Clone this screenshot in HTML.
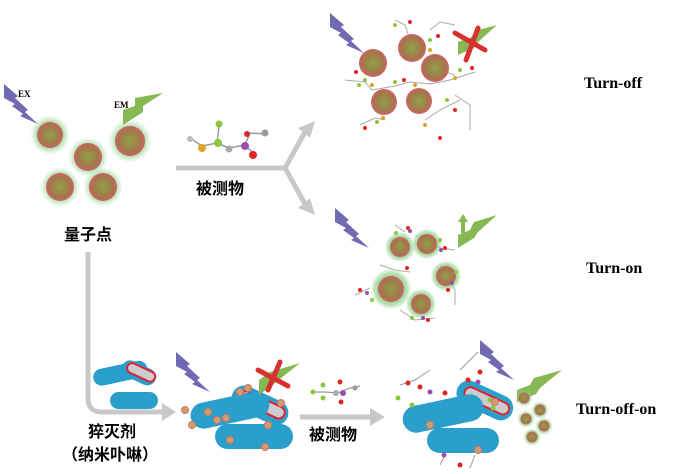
<!DOCTYPE html>
<html><head><meta charset="utf-8"><style>
html,body{margin:0;padding:0;background:#fff;width:700px;height:474px;overflow:hidden}
text{font-family:"Liberation Sans","Noto Sans CJK SC",sans-serif}
.t{font-family:"Liberation Serif",serif;font-weight:bold;font-size:16px}
.s{font-family:"Liberation Serif",serif;font-weight:bold;font-size:9px}
.c{font-family:"Liberation Sans","Noto Sans CJK SC",sans-serif;font-size:16px;font-weight:bold}
</style></head><body>
<svg width="700" height="474" viewBox="0 0 700 474" xmlns="http://www.w3.org/2000/svg">
<defs>
<radialGradient id="qd"><stop offset="0" stop-color="#8fa04a"/><stop offset="0.75" stop-color="#a5764a"/><stop offset="1" stop-color="#d2606a"/></radialGradient>
<radialGradient id="gl"><stop offset="0.55" stop-color="#6cc46a" stop-opacity="0.8"/><stop offset="1" stop-color="#9fdc9a" stop-opacity="0"/></radialGradient>
<radialGradient id="gl2"><stop offset="0.6" stop-color="#7dca78" stop-opacity="0.85"/><stop offset="0.85" stop-color="#a9dca5" stop-opacity="0.7"/><stop offset="1" stop-color="#c8ebc4" stop-opacity="0.2"/></radialGradient>
<g id="bolt"><polygon points="0,0 14,12 11,14 24,26 21,28 34,40 16,32 19,30 8,22 11,20 0,14" fill="#6f6bb3"/></g>
</defs>

<!-- left QDs -->
<g>
<circle cx="50" cy="135" r="20" fill="url(#gl)"/><circle cx="50" cy="135" r="13" fill="url(#qd)"/>
<circle cx="88" cy="157" r="20" fill="url(#gl)"/><circle cx="88" cy="157" r="14" fill="url(#qd)"/>
<circle cx="130" cy="141" r="22" fill="url(#gl)"/><circle cx="130" cy="141" r="15" fill="url(#qd)"/>
<circle cx="60" cy="187" r="20" fill="url(#gl)"/><circle cx="60" cy="187" r="14" fill="url(#qd)"/>
<circle cx="103" cy="187" r="20" fill="url(#gl)"/><circle cx="103" cy="187" r="14" fill="url(#qd)"/>
</g>
<use href="#bolt" x="4" y="84"/>
<text x="18" y="97" class="s">EX</text>
<text x="114" y="108" class="s">EM</text>
<polygon points="123,125 123,110 135,106 135,98 163,93 143,106 143,112" fill="#86b953"/>
<text x="88" y="240" text-anchor="middle" class="c" font-size="19">量子点</text>

<!-- molecule on top arrow -->
<g stroke="#999" stroke-width="1.5" fill="none">
<line x1="190" y1="138" x2="202" y2="146"/><line x1="202" y1="146" x2="217" y2="143"/><line x1="217" y1="143" x2="219" y2="126"/><line x1="217" y1="143" x2="229" y2="148"/><line x1="229" y1="148" x2="245" y2="145"/><line x1="245" y1="145" x2="255" y2="155"/><line x1="245" y1="145" x2="250" y2="133"/><line x1="250" y1="133" x2="265" y2="134"/>
</g>
<circle cx="202" cy="148" r="4" fill="#d9a427"/><circle cx="218" cy="143" r="4" fill="#8cc63f"/><circle cx="219" cy="124" r="3.5" fill="#8cc63f"/>
<circle cx="229" cy="149" r="3.5" fill="#aaa"/><circle cx="245" cy="146" r="4" fill="#9a4fb0"/><circle cx="253" cy="155" r="4" fill="#e02424"/><circle cx="247" cy="134" r="3" fill="#e02424"/><circle cx="265" cy="133" r="3.5" fill="#999"/><circle cx="190" cy="139" r="3" fill="#bbb"/>

<!-- Y arrow -->
<g fill="none" stroke="#c8c8c8" stroke-width="5">
<line x1="176" y1="168" x2="285" y2="168"/>
<polyline points="285,168 305,132"/>
<polyline points="285,168 305,204"/>
</g>
<polygon points="315,121 298,128 310,138" fill="#c8c8c8"/>
<polygon points="315,215 298,208 310,198" fill="#c8c8c8"/>
<text x="220" y="194" text-anchor="middle" class="c">被测物</text>

<!-- top cluster -->
<g stroke="#aaa" stroke-width="1" fill="none">
<path d="M345 80 L365 82 L372 90 L395 86 L410 82 L430 84 M430 84 L450 80 L475 72 M360 125 L375 118 L385 120 M425 120 L440 110 L460 100 M395 20 L405 25 L410 40 M430 30 L440 22 L455 25 M455 95 L470 105 L470 130 M440 70 L455 75"/>
</g>
<g>
<circle cx="373" cy="63" r="14" fill="url(#qd)"/>
<circle cx="412" cy="48" r="14" fill="url(#qd)"/>
<circle cx="435" cy="68" r="14" fill="url(#qd)"/>
<circle cx="384" cy="102" r="13" fill="url(#qd)"/>
<circle cx="419" cy="101" r="13" fill="url(#qd)"/>
</g>
<g fill="#8cc63f"><circle cx="365" cy="80" r="2"/><circle cx="395" cy="82" r="2"/><circle cx="395" cy="25" r="2"/><circle cx="430" cy="40" r="2"/><circle cx="460" cy="70" r="2"/><circle cx="447" cy="100" r="2"/><circle cx="377" cy="122" r="2"/><circle cx="359" cy="85" r="2"/></g>
<g fill="#e02424"><circle cx="356" cy="72" r="2"/><circle cx="404" cy="80" r="2"/><circle cx="410" cy="22" r="2"/><circle cx="438" cy="36" r="2"/><circle cx="472" cy="68" r="2"/><circle cx="455" cy="110" r="2"/><circle cx="365" cy="128" r="2"/><circle cx="440" cy="138" r="2"/></g>
<g fill="#d9a427"><circle cx="372" cy="85" r="2"/><circle cx="415" cy="85" r="2"/><circle cx="430" cy="50" r="2"/><circle cx="455" cy="78" r="2"/><circle cx="425" cy="125" r="2"/><circle cx="383" cy="118" r="2"/></g>
<use href="#bolt" x="330" y="13"/>
<polygon points="458,55 458,42 472,37 478,30 497,25 478,42 474,48" fill="#86b953"/>
<g stroke="#d8322e" stroke-width="5" stroke-linecap="round"><line x1="455" y1="33" x2="485" y2="50"/><line x1="478" y1="28" x2="466" y2="60"/></g>

<!-- middle cluster -->
<g stroke="#aaa" stroke-width="1" fill="none"><path d="M395 225 L405 232 M415 235 L440 248 L455 250 M440 265 L455 290 L455 305 M380 265 L395 270 L410 272 M355 295 L370 288 M400 310 L415 320 L435 318"/></g>
<g>
<circle cx="400" cy="247" r="15" fill="url(#gl2)"/><circle cx="400" cy="247" r="10" fill="url(#qd)"/>
<circle cx="427" cy="244" r="15" fill="url(#gl2)"/><circle cx="427" cy="244" r="10" fill="url(#qd)"/>
<circle cx="446" cy="276" r="15" fill="url(#gl2)"/><circle cx="446" cy="276" r="10" fill="url(#qd)"/>
<circle cx="391" cy="289" r="20" fill="url(#gl2)"/><circle cx="391" cy="289" r="13" fill="url(#qd)"/>
<circle cx="421" cy="304" r="15" fill="url(#gl2)"/><circle cx="421" cy="304" r="10" fill="url(#qd)"/>
</g>
<g fill="#e02424"><circle cx="408" cy="228" r="2"/><circle cx="445" cy="248" r="2"/><circle cx="448" cy="290" r="2"/><circle cx="360" cy="290" r="2"/><circle cx="428" cy="320" r="2"/><circle cx="407" cy="268" r="2"/></g>
<g fill="#8cc63f"><circle cx="396" cy="233" r="2"/><circle cx="440" cy="240" r="2"/><circle cx="456" cy="272" r="2"/><circle cx="372" cy="300" r="2"/><circle cx="412" cy="318" r="2"/></g>
<g fill="#9a4fb0"><circle cx="410" cy="231" r="2"/><circle cx="441" cy="250" r="2"/><circle cx="452" cy="283" r="2"/><circle cx="367" cy="293" r="2"/><circle cx="423" cy="318" r="2"/></g>
<use href="#bolt" x="335" y="208"/>
<polygon points="458,248 458,235 470,230 474,222 497,215 478,232 474,238" fill="#86b953"/>
<polygon points="461,233 461,222 458,222 463,214 468,222 465,222 465,233" fill="#86b953"/>

<!-- L arrow -->
<path d="M88 252 L88 398 Q88 412 102 412 L165 412" fill="none" stroke="#c8c8c8" stroke-width="5"/>
<polygon points="176,412 162,403 162,421" fill="#c8c8c8"/>
<text x="112" y="437" text-anchor="middle" class="c">猝灭剂</text>
<text x="110" y="460" text-anchor="middle" class="c" font-weight="normal">（纳米卟啉）</text>

<!-- quencher rods small -->
<g transform="rotate(-12 110 380)"><rect x="94" y="367" width="55" height="17" rx="8.5" fill="#2b9fcc"/></g>
<rect x="121" y="364" width="36" height="17" rx="8.5" fill="#2b9fcc" transform="rotate(25 138 372)"/>
<rect x="126" y="366" width="30" height="10" rx="5" fill="#ccc" stroke="#d23" stroke-width="2" transform="rotate(25 138 372)"/>
<rect x="110" y="392" width="48" height="17" rx="8.5" fill="#2b9fcc"/>

<!-- quenched complex -->
<use href="#bolt" x="176" y="352"/>
<rect x="230" y="392" width="60" height="25" rx="12.5" fill="#2b9fcc" transform="rotate(25 258 405)"/>
<rect x="238" y="397" width="48" height="12" rx="6" fill="#ccc" stroke="#d23" stroke-width="2" transform="rotate(25 258 405)"/>
<rect x="190" y="397" width="80" height="26" rx="13" fill="#2b9fcc" transform="rotate(-12 230 410)"/>
<rect x="215" y="424" width="78" height="25" rx="12.5" fill="#2b9fcc"/>
<g fill="#c9a070" stroke="#e07060" stroke-width="1"><circle cx="185" cy="410" r="3.5"/><circle cx="208" cy="412" r="3.5"/><circle cx="217" cy="420" r="3.5"/><circle cx="226" cy="418" r="3.5"/><circle cx="240" cy="392" r="3.5"/><circle cx="248" cy="388" r="3.5"/><circle cx="281" cy="403" r="3.5"/><circle cx="268" cy="425" r="3.5"/><circle cx="230" cy="440" r="3.5"/><circle cx="265" cy="447" r="3.5"/><circle cx="192" cy="425" r="3.5"/></g>
<polygon points="259,395 259,380 270,372 300,363 275,383" fill="#86b953"/>
<g stroke="#d8322e" stroke-width="5" stroke-linecap="round"><line x1="258" y1="370" x2="288" y2="386"/><line x1="280" y1="362" x2="268" y2="390"/></g>

<!-- arrow 2 -->
<line x1="300" y1="417" x2="370" y2="417" stroke="#c8c8c8" stroke-width="5"/>
<polygon points="385,417 370,408 370,426" fill="#c8c8c8"/>
<text x="333" y="440" text-anchor="middle" class="c">被测物</text>
<g stroke="#999" stroke-width="1.2" fill="none"><path d="M313 392 L325 392 L338 393 L350 388 L360 386"/></g>
<g><circle cx="313" cy="392" r="2.5" fill="#8cc63f"/><circle cx="323" cy="385" r="2.5" fill="#8cc63f"/><circle cx="323" cy="398" r="2.5" fill="#8cc63f"/><circle cx="336" cy="393" r="3" fill="#aaa"/><circle cx="340" cy="382" r="2.5" fill="#e02424"/><circle cx="343" cy="393" r="3" fill="#9a4fb0"/><circle cx="341" cy="402" r="2.5" fill="#e02424"/><circle cx="355" cy="388" r="2.5" fill="#999"/></g>

<!-- released complex -->
<use href="#bolt" x="480" y="340"/>
<g stroke="#999" stroke-width="1" fill="none"><path d="M400 385 L415 380 L430 370 M460 370 L470 360 L478 352 M445 455 L440 465 M475 455 L470 468"/></g>
<rect x="455" y="388" width="60" height="25" rx="12.5" fill="#2b9fcc" transform="rotate(25 485 400)"/>
<rect x="463" y="394" width="48" height="12" rx="6" fill="#ccc" stroke="#d23" stroke-width="2" transform="rotate(25 485 400)"/>
<rect x="402" y="400" width="82" height="27" rx="13.5" fill="#2b9fcc" transform="rotate(-12 443 413)"/>
<rect x="427" y="428" width="72" height="25" rx="12.5" fill="#2b9fcc"/>
<g fill="#e02424"><circle cx="408" cy="383" r="2.5"/><circle cx="420" cy="387" r="2.5"/><circle cx="445" cy="393" r="2.5"/><circle cx="468" cy="380" r="2.5"/><circle cx="480" cy="372" r="2.5"/><circle cx="460" cy="465" r="2.5"/></g>
<g fill="#8cc63f"><circle cx="398" cy="398" r="2.5"/><circle cx="412" cy="405" r="2.5"/><circle cx="490" cy="400" r="2.5"/><circle cx="493" cy="408" r="2.5"/></g>
<g fill="#9a4fb0"><circle cx="430" cy="392" r="2.5"/><circle cx="478" cy="382" r="2.5"/><circle cx="444" cy="455" r="2.5"/></g>
<g fill="#c9a070" stroke="#e07060"><circle cx="430" cy="425" r="3.5"/><circle cx="495" cy="402" r="3.5"/><circle cx="478" cy="450" r="3.5"/></g>
<polygon points="517,402 517,390 530,385 534,378 562,370 540,388 536,394" fill="#86b953"/>
<g>
<circle cx="524" cy="398" r="9" fill="url(#gl)"/><circle cx="524" cy="398" r="5.5" fill="url(#qd)"/>
<circle cx="540" cy="410" r="9" fill="url(#gl)"/><circle cx="540" cy="410" r="5.5" fill="url(#qd)"/>
<circle cx="526" cy="419" r="9" fill="url(#gl)"/><circle cx="526" cy="419" r="5.5" fill="url(#qd)"/>
<circle cx="544" cy="426" r="9" fill="url(#gl)"/><circle cx="544" cy="426" r="5.5" fill="url(#qd)"/>
<circle cx="532" cy="437" r="9" fill="url(#gl)"/><circle cx="532" cy="437" r="5.5" fill="url(#qd)"/>
</g>

<text x="584" y="88" class="t">Turn-off</text>
<text x="586" y="273" class="t">Turn-on</text>
<text x="576" y="414" class="t">Turn-off-on</text>
</svg>
</body></html>
